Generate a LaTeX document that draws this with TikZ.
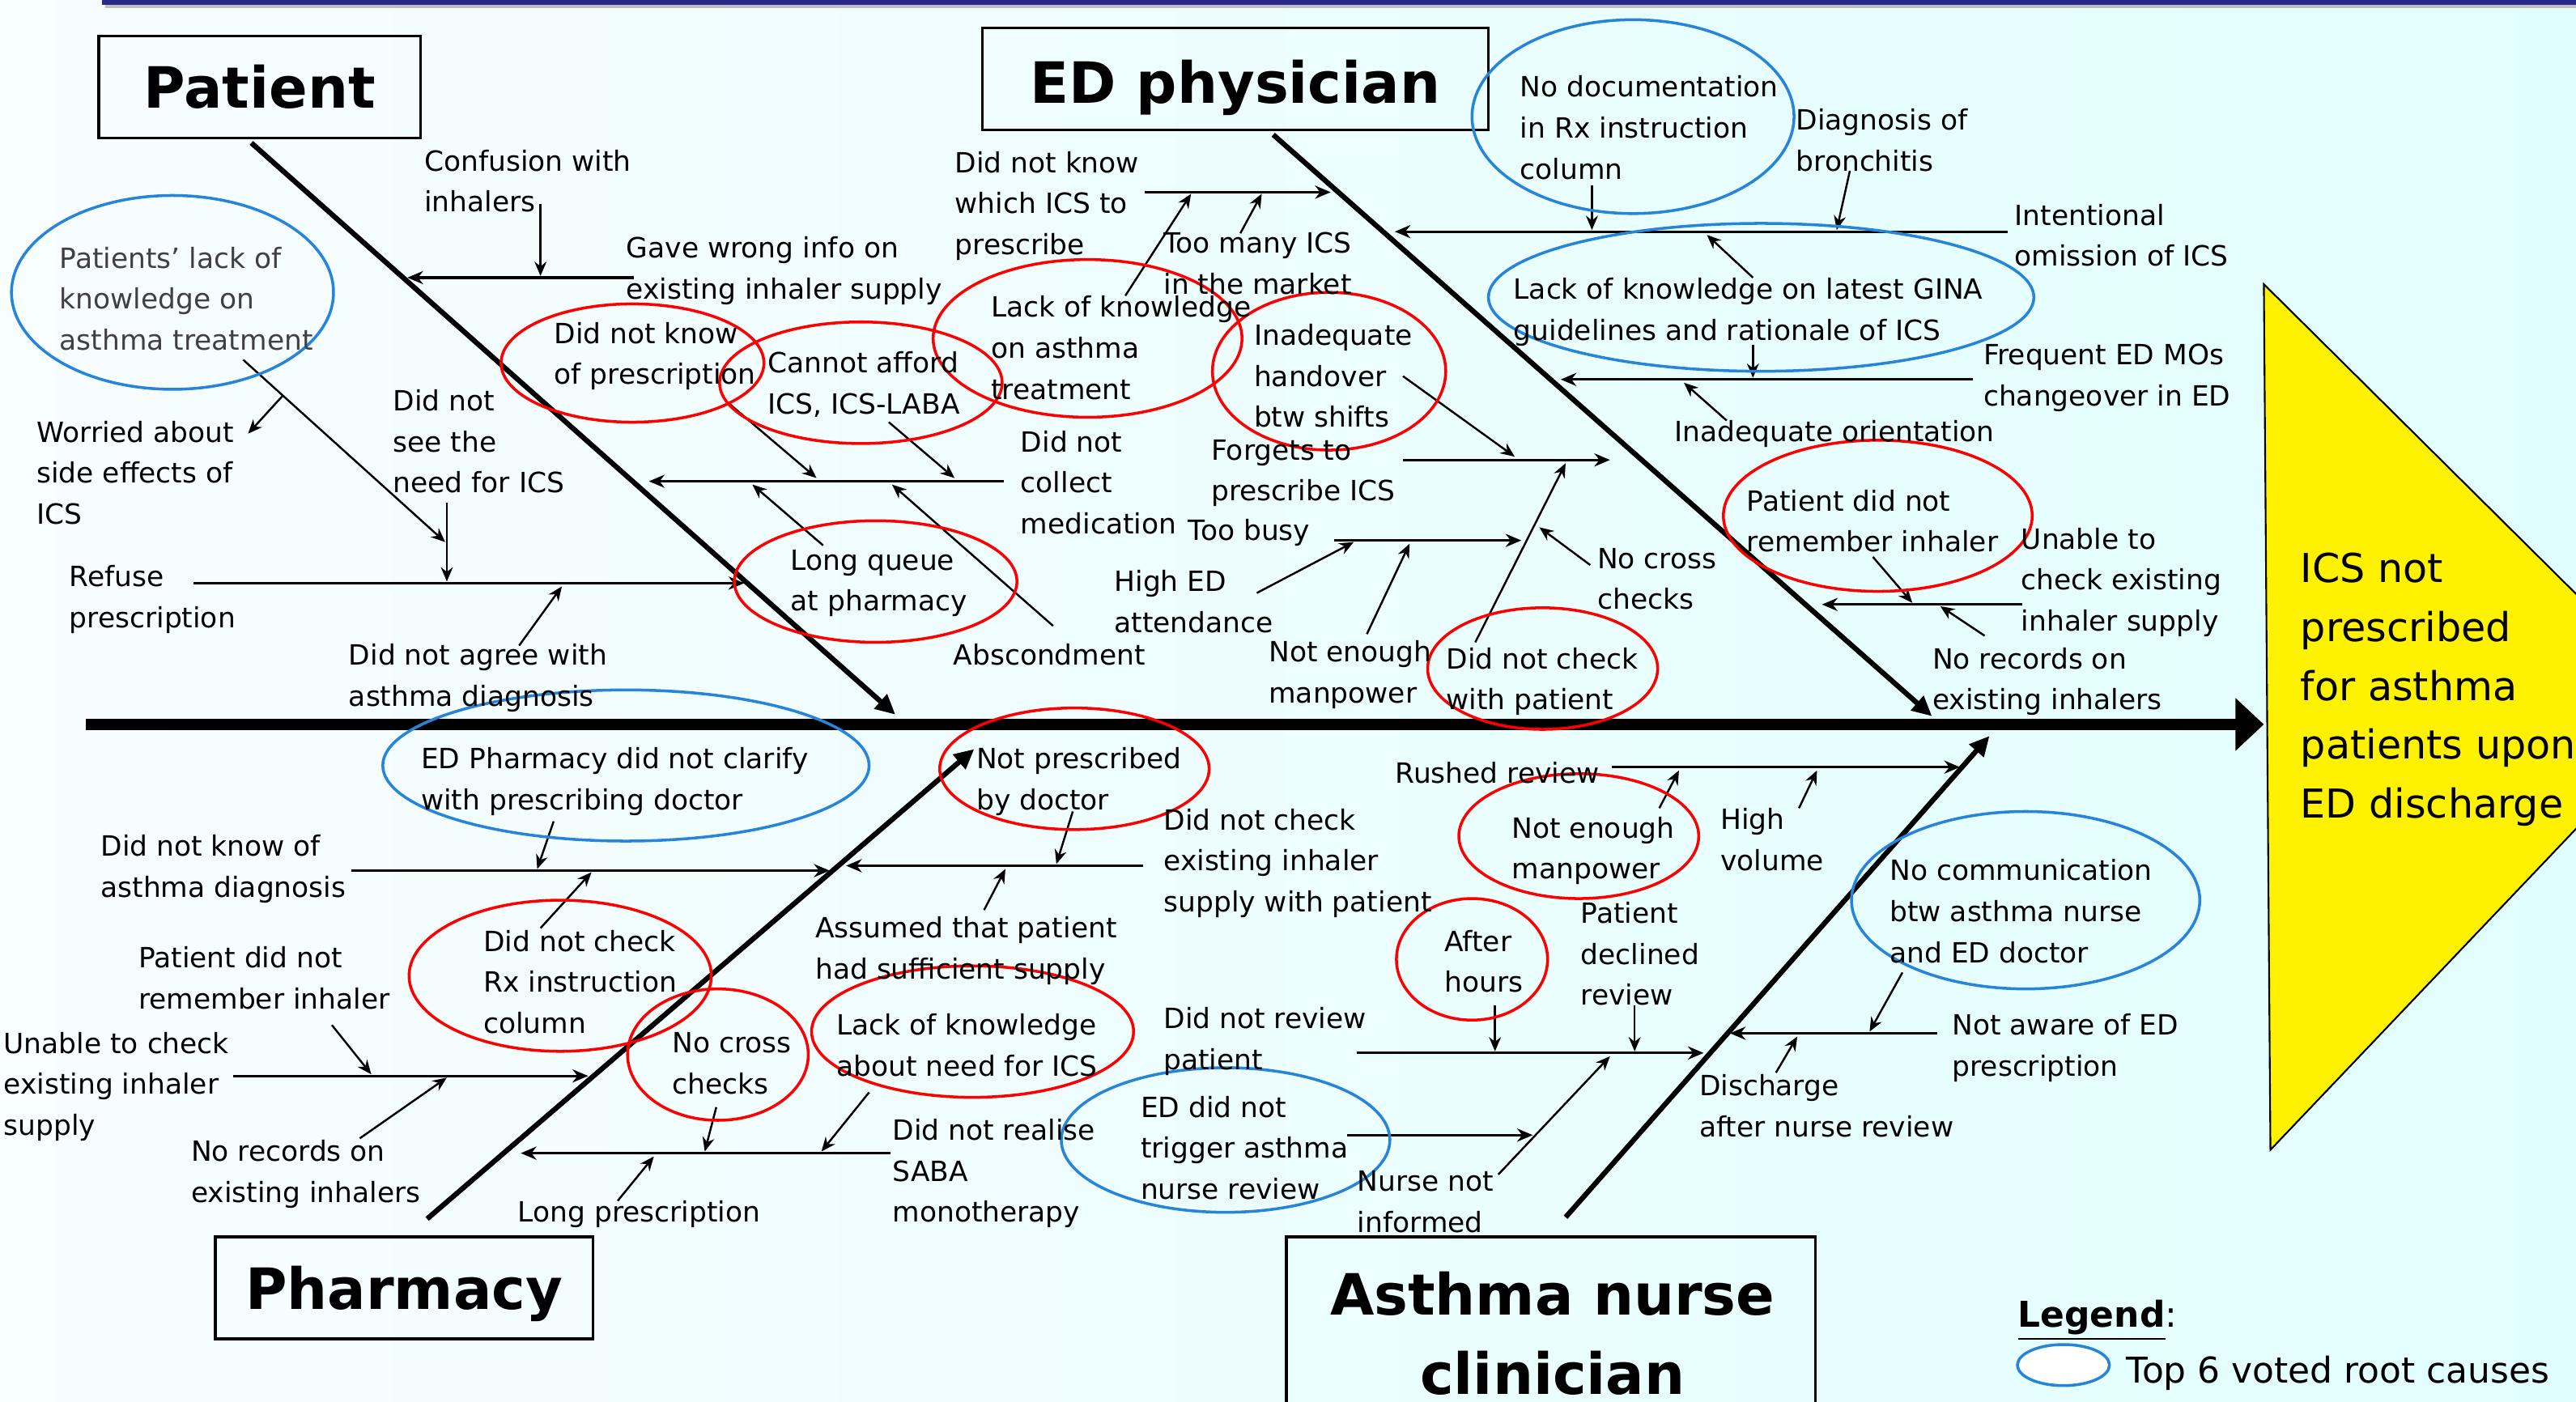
\documentclass[tikz,border=0pt]{standalone}
\usepackage{fontspec}
\setmainfont{DejaVu Sans}
\usetikzlibrary{arrows.meta,shapes.geometric}
\definecolor{myblue}{RGB}{38,132,218}
\definecolor{navybar}{RGB}{40,40,135}
\definecolor{bgL}{RGB}{248,253,254}
\definecolor{bgR}{RGB}{225,254,254}
\definecolor{graytxt}{RGB}{64,64,64}
\def\pxu{0.20293mm}
\newcommand\lblfont{\fontsize{9.8pt}{14.4pt}\selectfont}
\newcommand\headfont{\fontsize{20pt}{28pt}\selectfont\bfseries}
\newcommand\conn[4]{\coordinate (#2s) at (#3);\coordinate (#2e) at (#4);\draw[#1] (#2s) -- (#2e);}
\tikzset{
  lbl/.style={font=\lblfont, align=left, inner sep=0pt, anchor=base west},
  arr/.style={line width=0.7pt, -{Stealth[length=5pt,width=4.2pt]}},
  brn/.style={line width=0.9pt, -{Stealth[length=5.5pt,width=4.6pt]}},
  bone/.style={line width=1.8pt, -{Triangle[length=7pt,width=6.5pt]}},
  spine/.style={line width=3.8pt, -{Triangle[length=10pt,width=18pt]}},
  ell/.style n args={2}{ellipse, inner sep=0pt, minimum width={2*#1*\pxu}, minimum height={2*#2*\pxu}},
  redell/.style={draw=red, line width=1pt},
  blueell/.style={draw=myblue, line width=1pt},
  catbox/.style={draw=black, line width=1pt, inner sep=0pt},
  head/.style={font=\headfont, inner sep=0pt, anchor=base},
}
\begin{document}
\begin{tikzpicture}[x=0.20293mm, y=-0.20293mm]
\useasboundingbox (0,0) rectangle (1568,853);
\clip (0,0) rectangle (1568,853);
\shade[left color=bgL, right color=bgR] (0,0) rectangle (1568,853);
\fill[black!25] (64,2.5) rectangle (1568,5);
\fill[navybar] (62,0) rectangle (1568,3);

% effect
\filldraw[fill=yellow, draw=black, line width=0.6pt] (1378,173) -- (1638,431) -- (1382,700) -- cycle;
\node[font=\fontsize{14pt}{20.7pt}\selectfont, align=left, inner sep=0pt, anchor=base west] (effect) at (1400,498) {ICS not\\prescribed\\for asthma\\patients upon\\ED discharge};

% category boxes
\node[catbox, minimum width={196*\pxu}, minimum height={62*\pxu}] (patbox) at (158,53) {};
\node[head] (pattxt) at (158,66) {Patient};
\node[catbox, minimum width={308*\pxu}, minimum height={62*\pxu}] (edbox) at (752,48) {};
\node[head] (edtxt) at (752,63) {ED physician};
\node[catbox, minimum width={230*\pxu}, minimum height={62*\pxu}] (phbox) at (246,784) {};
\node[head] (phtxt) at (246,797) {Pharmacy};
\node[catbox, minimum width={322*\pxu}, minimum height={130*\pxu}] (nbox) at (944,818) {};
\node[head, align=center] (ntxt) at (945,849) {Asthma nurse\\clinician};

% spine and bones
\coordinate (spL) at (52,441); \coordinate (spR) at (1378,441);
\draw[spine] (spL) -- (spR);
\conn{bone}{bP}{153,87}{545,435}
\conn{bone}{bE}{775,82}{1176,436}
\conn{bone}{bH}{260,742}{593,456}
\conn{bone}{bN}{953,741}{1211,448}

% Patient connectors
\conn{brn}{P1}{386,169}{248,169}
\conn{arr}{P1a}{329,124}{329,168}
\conn{brn}{P2}{611,293}{395,293}
\conn{arr}{P2a}{443,245}{497,291}
\conn{arr}{P2b}{541,257}{581,291}
\conn{arr}{P2c}{501,332}{458,295}
\conn{arr}{P2d}{641,381}{543,295}
\conn{brn}{P3}{118,355}{453,355}
\conn{arr}{P3a}{272,306}{272,354}
\conn{arr}{P3b}{148,219}{271,330}
\conn{arr}{P3c}{172,241}{151,264}
\conn{arr}{P3d}{316,393}{342,357}

% ED physician connectors
\conn{brn}{E1}{697,117}{810,117}
\conn{arr}{E1a}{685,180}{725,118}
\conn{arr}{E1b}{755,142}{768,118}
\conn{brn}{E2}{1222,141}{849,141}
\conn{arr}{E2a}{969,113}{969,140}
\conn{arr}{E2b}{1126,104}{1118,140}
\conn{arr}{E2c}{1067,169}{1039,143}
\conn{brn}{E3}{1201,231}{950,231}
\conn{arr}{E3a}{1067,210}{1067,230}
\conn{arr}{E3b}{1051,256}{1025,233}
\conn{brn}{E4}{854,280}{980,280}
\conn{arr}{E4a}{854,229}{922,278}
\conn{arr}{E4b}{898,391}{953,282}
\conn{arr}{E4c}{968,344}{937,321}
\conn{brn}{E5}{812,329}{926,329}
\conn{arr}{E5a}{765,361}{824,330}
\conn{arr}{E5b}{832,386}{858,331}
\conn{brn}{E6}{1231,368}{1109,368}
\conn{arr}{E6a}{1140,339}{1164,367}
\conn{arr}{E6b}{1208,387}{1181,369}

% Pharmacy connectors
\conn{brn}{H1}{214,530}{505,530}
\conn{arr}{H1a}{337,500}{327,529}
\conn{arr}{H1b}{329,565}{360,531}
\conn{brn}{H2}{696,527}{515,527}
\conn{arr}{H2a}{653,494}{643,526}
\conn{arr}{H2b}{599,554}{612,529}
\conn{brn}{H3}{142,655}{358,655}
\conn{arr}{H3a}{202,624}{226,654}
\conn{arr}{H3b}{219,693}{272,656}
\conn{brn}{H4}{542,702}{317,702}
\conn{arr}{H4a}{436,674}{429,701}
\conn{arr}{H4b}{529,665}{500,701}
\conn{arr}{H4c}{376,731}{398,704}

% Asthma nurse connectors
\conn{brn}{N1}{981,467}{1193,467}
\conn{arr}{N1a}{1010,492}{1022,469}
\conn{arr}{N1b}{1095,492}{1106,469}
\conn{brn}{N2}{826,641}{1037,641}
\conn{arr}{N2a}{910,612}{910,640}
\conn{arr}{N2b}{995,612}{995,640}
\conn{arr}{N2c}{912,715}{980,643}
\conn{brn}{N3}{820,691}{933,691}
\conn{brn}{N4}{1179,629}{1053,629}
\conn{arr}{N4a}{1158,592}{1138,628}
\conn{arr}{N4b}{1081,653}{1094,631}

% ellipses
\node[blueell, ell={98}{59}] (eB1) at (105,178) {};
\node[blueell, ell={98}{59}] (eB2) at (994,71) {};
\node[blueell, ell={166}{45}] (eB3) at (1072,181) {};
\node[blueell, ell={148}{46}] (eB4) at (381,466) {};
\node[blueell, ell={106}{54}] (eB5) at (1233,548) {};
\node[blueell, ell={100}{44}] (eB6) at (746,694) {};
\node[redell, ell={80}{36}] (eR1) at (385,221) {};
\node[redell, ell={86}{37}] (eR2) at (524,233) {};
\node[redell, ell={94}{48}] (eR3) at (662,206) {};
\node[redell, ell={71}{48}] (eR4) at (809,226) {};
\node[redell, ell={94}{46}] (eR5) at (1143,314) {};
\node[redell, ell={86}{37}] (eR6) at (533,354) {};
\node[redell, ell={70}{37}] (eR7) at (939,407) {};
\node[redell, ell={82}{37}] (eR8) at (654,468) {};
\node[redell, ell={73}{38}] (eR9) at (961,509) {};
\node[redell, ell={46}{37}] (eR10) at (896,584) {};
\node[redell, ell={92}{46}] (eR11) at (341,594) {};
\node[redell, ell={55}{40}] (eR12) at (437,642) {};
\node[redell, ell={98}{40}] (eR13) at (592,628) {};

% upper labels (anchor = baseline of last line)
\node[lbl] (tConf) at (258,129) {Confusion with\\inhalers};
\node[lbl] (tGave) at (381,182) {Gave wrong info on\\existing inhaler supply};
\node[lbl, text=graytxt] (tPLack) at (36,213) {Patients’ lack of\\knowledge on\\asthma treatment};
\node[lbl] (tDNKp) at (337,234) {Did not know\\of prescription};
\node[lbl] (tAfford) at (467,252) {Cannot afford\\ICS, ICS-LABA};
\node[lbl] (tLackAT) at (603,243) {Lack of knowledge\\on asthma\\treatment};
\node[lbl] (tWhich) at (581,155) {Did not know\\which ICS to\\prescribe};
\node[lbl] (tTooMany) at (708,179) {Too many ICS\\in the market};
\node[lbl] (tHandover) at (763,260) {Inadequate\\handover\\btw shifts};
\node[lbl] (tNoDoc) at (925,109) {No documentation\\in Rx instruction\\column};
\node[lbl] (tBronch) at (1093,104) {Diagnosis of\\bronchitis};
\node[lbl] (tIntent) at (1226,162) {Intentional\\omission of ICS};
\node[lbl] (tGINA) at (921,207) {Lack of knowledge on latest GINA\\guidelines and rationale of ICS};
\node[lbl] (tFreq) at (1207,247) {Frequent ED MOs\\changeover in ED};
\node[lbl] (tOrient) at (1019,269) {Inadequate orientation};
\node[lbl] (tWorried) at (22,319) {Worried about\\side effects of\\ICS};
\node[lbl] (tSeeNeed) at (239,300) {Did not\\see the\\need for ICS};
\node[lbl] (tCollect) at (621,325) {Did not\\collect\\medication};
\node[lbl] (tForgets) at (737,305) {Forgets to\\prescribe ICS};
\node[lbl] (tBusy) at (723,329) {Too busy};
\node[lbl] (tPRem1) at (1063,336) {Patient did not\\remember inhaler};
\node[lbl] (tUnable1) at (1230,384) {Unable to\\check existing\\inhaler supply};
\node[lbl] (tRefuse) at (42,382) {Refuse\\prescription};
\node[lbl] (tQueue) at (481,372) {Long queue\\at pharmacy};
\node[lbl] (tHighED) at (678,385) {High ED\\attendance};
\node[lbl] (tCross1) at (972,371) {No cross\\checks};
\node[lbl] (tAgree) at (212,430) {Did not agree with\\asthma diagnosis};
\node[lbl] (tAbsc) at (580,405) {Abscondment};
\node[lbl] (tMan1) at (772,428) {Not enough\\manpower};
\node[lbl] (tChkPat) at (880,432) {Did not check\\with patient};
\node[lbl] (tRec1) at (1176,432) {No records on\\existing inhalers};

% lower labels
\node[lbl] (tEDPh) at (256,493) {ED Pharmacy did not clarify\\with prescribing doctor};
\node[lbl] (tNotPres) at (594,493) {Not prescribed\\by doctor};
\node[lbl] (tRushed) at (849,477) {Rushed review};
\node[lbl] (tMan2) at (920,535) {Not enough\\manpower};
\node[lbl] (tHighVol) at (1047,530) {High\\volume};
\node[lbl] (tNoComm) at (1150,586) {No communication\\btw asthma nurse\\and ED doctor};
\node[lbl] (tKnowDx) at (61,546) {Did not know of\\asthma diagnosis};
\node[lbl] (tChkSup) at (708,555) {Did not check\\existing inhaler\\supply with patient};
\node[lbl] (tAssumed) at (496,596) {Assumed that patient\\had sufficient supply};
\node[lbl] (tAfter) at (879,604) {After\\hours};
\node[lbl] (tDeclined) at (962,612) {Patient\\declined\\review};
\node[lbl] (tChkRx) at (294,629) {Did not check\\Rx instruction\\column};
\node[lbl] (tPRem2) at (84,614) {Patient did not\\remember inhaler};
\node[lbl] (tUnable2) at (2,691) {Unable to check\\existing inhaler\\supply};
\node[lbl] (tCross2) at (409,666) {No cross\\checks};
\node[lbl] (tLackNeed) at (509,655) {Lack of knowledge\\about need for ICS};
\node[lbl] (tReview) at (708,651) {Did not review\\patient};
\node[lbl] (tAware) at (1188,655) {Not aware of ED\\prescription};
\node[lbl] (tTrigger) at (694,730) {ED did not\\trigger asthma\\nurse review};
\node[lbl] (tDisch) at (1034,692) {Discharge\\after nurse review};
\node[lbl] (tRec2) at (116,732) {No records on\\existing inhalers};
\node[lbl] (tSABA) at (543,744) {Did not realise\\SABA\\monotherapy};
\node[lbl] (tLongRx) at (315,744) {Long prescription};
\node[lbl] (tNurseInf) at (826,750) {Nurse not\\informed};

% legend
\node[font=\fontsize{12.5pt}{15pt}\selectfont, inner sep=0pt, anchor=base west] (legtitle) at (1228,808) {\textbf{\underline{Legend}}:};
\node[blueell, ell={28}{12.5}, fill=white] (legell) at (1256,831) {};
\node[font=\fontsize{12.5pt}{15pt}\selectfont, inner sep=0pt, anchor=base west] (legtxt) at (1294,842) {Top 6 voted root causes};
\end{tikzpicture}
\end{document}
